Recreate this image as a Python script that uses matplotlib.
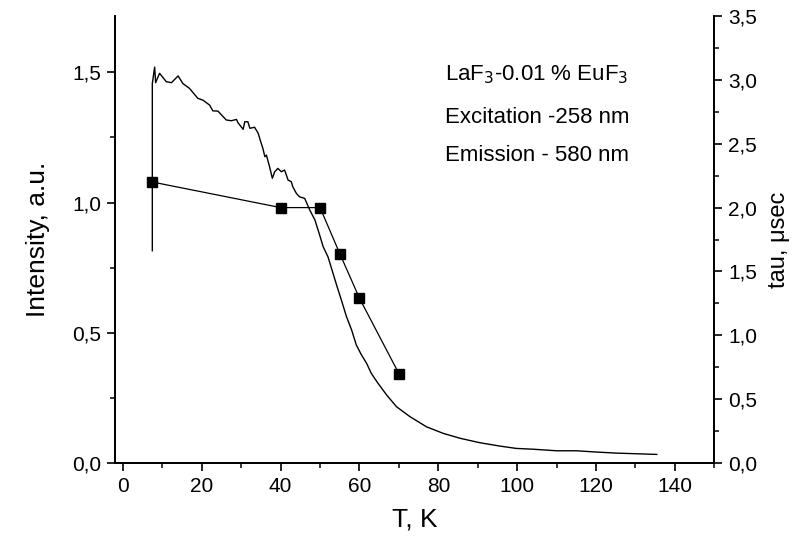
import matplotlib
matplotlib.use('Agg')
import matplotlib.pyplot as plt
from matplotlib.ticker import MultipleLocator, FuncFormatter

plt.rcParams['font.family'] = ['Liberation Sans', 'DejaVu Sans']

# Luminescence intensity vs temperature
temp_int = [7.46, 7.46, 8.05, 8.3, 9.3, 11.0, 12.3, 14.0, 15.2, 16.9, 19.0, 20.3,
            22.0, 22.8, 24.1, 26.2, 27.5, 28.8, 29.2, 30.5, 30.9, 31.7, 32.2,
            33.4, 34.3, 34.9, 35.5, 36.0, 36.4, 37.2, 37.9, 38.5, 39.3, 40.2,
            41.0, 41.9, 42.7, 43.1, 44.0, 44.8, 46.1, 47.4, 48.7, 49.9, 50.8,
            52.0, 53.3, 54.2, 55.4, 56.7, 58.0, 59.2, 60.5, 61.8, 63.0, 64.7,
            66.9, 69.4, 72.8, 77.0, 81.2, 85.5, 90.5, 95.6, 99.8, 104.0, 110.0,
            115.0, 120.2, 125.2, 129.4, 135.4]
intensity = [0.815, 1.457, 1.52, 1.46, 1.496, 1.464, 1.46, 1.486, 1.457, 1.438,
             1.40, 1.393, 1.374, 1.352, 1.351, 1.317, 1.314, 1.319, 1.306, 1.281,
             1.31, 1.31, 1.285, 1.289, 1.266, 1.236, 1.208, 1.176, 1.182, 1.137,
             1.093, 1.118, 1.131, 1.118, 1.125, 1.086, 1.08, 1.06, 1.035, 1.022,
             1.016, 0.971, 0.933, 0.875, 0.83, 0.792, 0.728, 0.683, 0.626, 0.562,
             0.511, 0.453, 0.415, 0.383, 0.344, 0.306, 0.261, 0.216, 0.178, 0.139,
             0.114, 0.095, 0.078, 0.065, 0.056, 0.053, 0.047, 0.047, 0.042, 0.038,
             0.036, 0.033]

# Decay time vs temperature
temp_tau = [7.5, 40, 50, 55, 60, 70]
tau = [2.2, 2.0, 2.0, 1.64, 1.29, 0.70]

x_ticks = [0, 20, 40, 60, 80, 100, 120, 140]
left_ticks = [0.0, 0.5, 1.0, 1.5]
right_ticks = [0.0, 0.5, 1.0, 1.5, 2.0, 2.5, 3.0, 3.5]

comma = FuncFormatter(lambda v, pos: f"{v:.1f}".replace('.', ','))

fig = plt.figure(figsize=(7.96, 5.43), dpi=100)
ax = fig.add_axes([0.1445, 0.1473, 0.7529, 0.8232])
ax2 = ax.twinx()

ax.plot(temp_int, intensity, color='black', lw=1.0)
ax2.plot(temp_tau, tau, color='black', lw=0.9, marker='s', ms=7.5)

ax.set_xlim(-2, 150)
ax.set_ylim(0, 1.716)
ax2.set_ylim(0, 3.5)

ax.set_xticks(x_ticks)
ax.xaxis.set_minor_locator(MultipleLocator(10))
ax.set_yticks(left_ticks)
ax.yaxis.set_minor_locator(MultipleLocator(0.25))
ax.yaxis.set_major_formatter(comma)
ax2.set_yticks(right_ticks)
ax2.yaxis.set_minor_locator(MultipleLocator(0.25))
ax2.yaxis.set_major_formatter(comma)

for a in (ax, ax2):
    a.spines['top'].set_visible(False)
    for s in a.spines.values():
        s.set_linewidth(1.3)
    a.tick_params(which='major', direction='out', length=6, width=1.2,
                  labelsize=15, pad=4)
    a.tick_params(which='minor', direction='out', length=3.5, width=1.1)

ax.set_xlabel('T, K', fontsize=19, labelpad=8)
ax.set_ylabel('Intensity, a.u.', fontsize=19, labelpad=16)
ax2.set_ylabel('tau, μsec', fontsize=17, labelpad=8)

ax.text(0.551, 0.868, 'LaF$_3$-0.01 % EuF$_3$', transform=ax.transAxes,
        fontsize=16, ha='left', va='center')
ax.text(0.551, 0.774, 'Excitation -258 nm', transform=ax.transAxes,
        fontsize=16, ha='left', va='center')
ax.text(0.551, 0.687, 'Emission - 580 nm', transform=ax.transAxes,
        fontsize=16, ha='left', va='center')

fig.savefig('out.png', dpi=100)
